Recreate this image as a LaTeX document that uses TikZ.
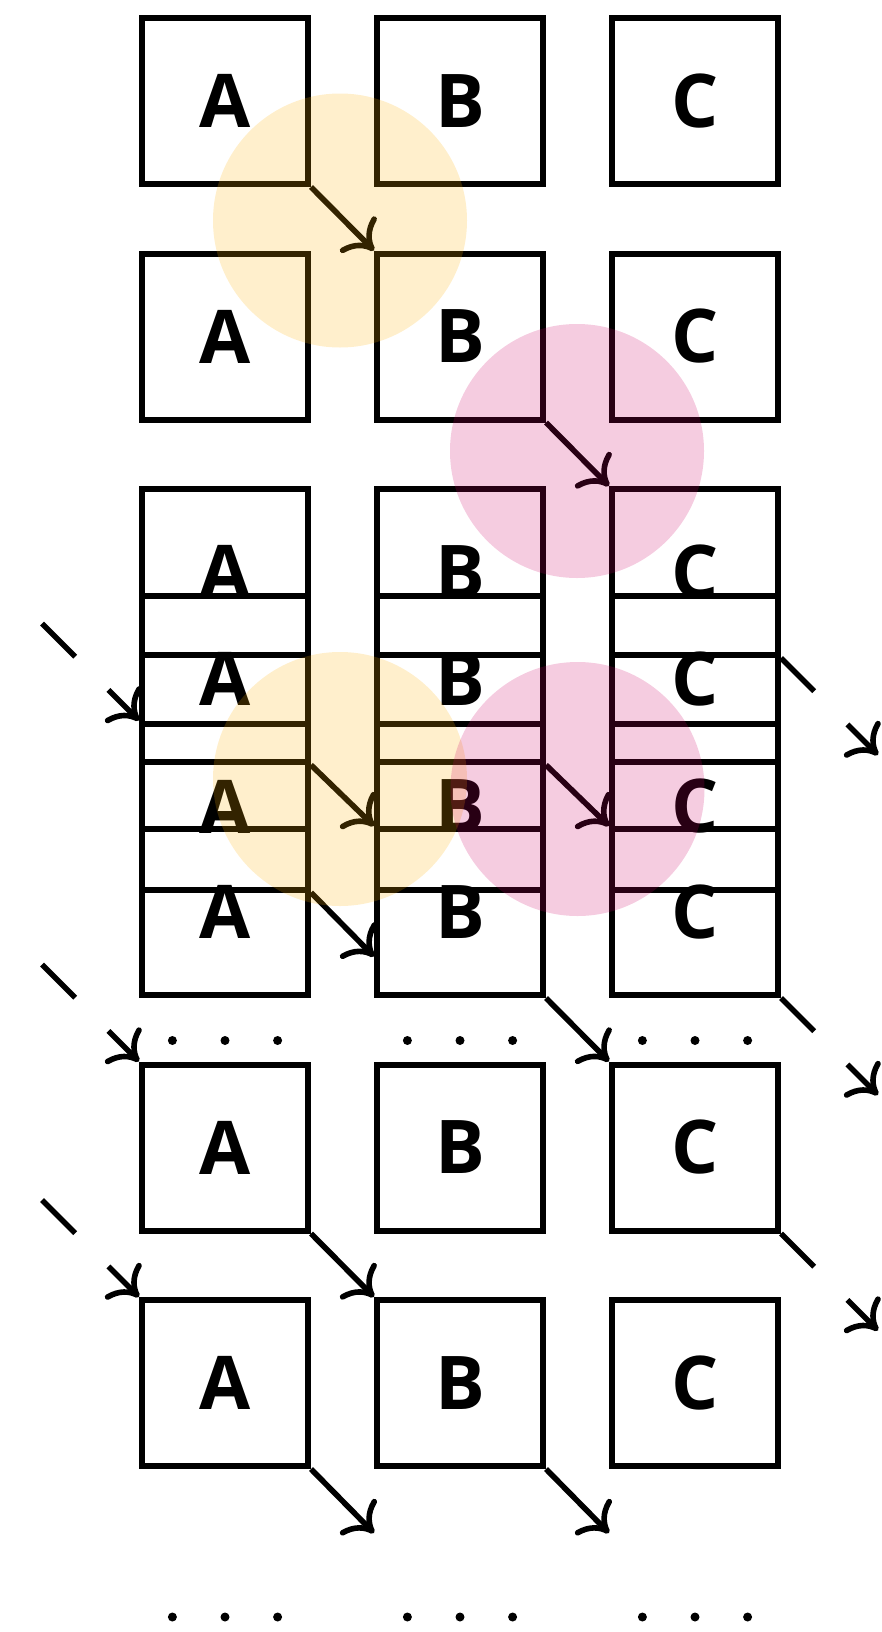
\documentclass[tikz,border=0pt]{standalone}
\usepackage{fontspec}
\newfontfamily\cellfont{Open Sans}
\usepackage{tikz}
\usetikzlibrary{arrows.meta, positioning, calc}
\definecolor{wavegold}{RGB}{255, 175, 0}
\definecolor{wavepink}{RGB}{204, 0, 102}

\tikzset{
  cell/.style={draw, line width=3bp, minimum size=83bp, inner sep=0pt,
    font=\cellfont\bfseries\fontsize{37.2}{44}\selectfont},
  flow/.style={line width=2.8bp, -{Computer Modern Rightarrow[length=12.5bp, width=25bp]}},
  wrap/.style={flow, dash pattern=on 23.5bp off 23.5bp},
  dot/.style={fill=black}
}

\begin{document}
\begin{tikzpicture}[x=50bp, y=50bp]
  \useasboundingbox (0,0) rectangle (8.82,-16.32);

  % cells, one row of A B C per step
  \foreach \r/\y in {1/1.01, 2/3.365, 3/5.72, 4/6.79, 5/8.065, 6/9.12, 7/11.475, 8/13.83} {
    \node[cell] (a\r) at (2.25,-\y) {A};
    \node[cell] (b\r) at (4.60,-\y) {B};
    \node[cell] (c\r) at (6.95,-\y) {C};
  }

  % dots
  \foreach \x in {2.25, 4.60, 6.95} {
    \foreach \d in {-0.526, 0, 0.526} {
      \fill[dot] (\x+\d,-10.405) circle (0.045);
      \fill[dot] (\x+\d,-16.17) circle (0.045);
    }
  }

  % moves between neighbours
  \draw[flow] (a1.south east) -- (b2.north west);
  \draw[flow] (b2.south east) -- (c3.north west);
  \draw[flow] (a4.south east) -- (b6.north west);
  \draw[flow] (b4.south east) -- (c6.north west);
  \draw[flow] (b6.south east) -- (c7.north west);
  \draw[flow] (a7.south east) -- (b8.north west);

  \coordinate (a5out) at ($(a5.south east)+(0.63,-0.64)$);
  \coordinate (a8out) at ($(a8.south east)+(0.63,-0.64)$);
  \coordinate (b8out) at ($(b8.south east)+(0.63,-0.64)$);
  \draw[flow] (a5.south east) -- (a5out);
  \draw[flow] (a8.south east) -- (a8out);
  \draw[flow] (b8.south east) -- (b8out);

  % wrap-around
  \coordinate (a5in) at ($(a5.north west)+(-0.97,0.97)$);
  \coordinate (a7in) at ($(a7.north west)+(-0.97,0.97)$);
  \coordinate (a8in) at ($(a8.north west)+(-0.97,0.97)$);
  \coordinate (c3out) at ($(c3.south east)+(0.97,-0.97)$);
  \coordinate (c6out) at ($(c6.south east)+(0.97,-0.97)$);
  \coordinate (c7out) at ($(c7.south east)+(0.97,-0.97)$);
  \draw[wrap] (a5in) -- (a5.north west);
  \draw[wrap] (a7in) -- (a7.north west);
  \draw[wrap] (a8in) -- (a8.north west);
  \draw[wrap] (c3.south east) -- (c3out);
  \draw[wrap] (c6.south east) -- (c6out);
  \draw[wrap] (c7.south east) -- (c7out);

  % highlights
  \fill[wavegold, opacity=0.2] (3.40,-2.205) circle (1.27);
  \fill[wavepink, opacity=0.2] (5.77,-4.51) circle (1.27);
  \fill[wavegold, opacity=0.2] (3.40,-7.79) circle (1.27);
  \fill[wavepink, opacity=0.2] (5.775,-7.89) circle (1.27);
\end{tikzpicture}
\end{document}
